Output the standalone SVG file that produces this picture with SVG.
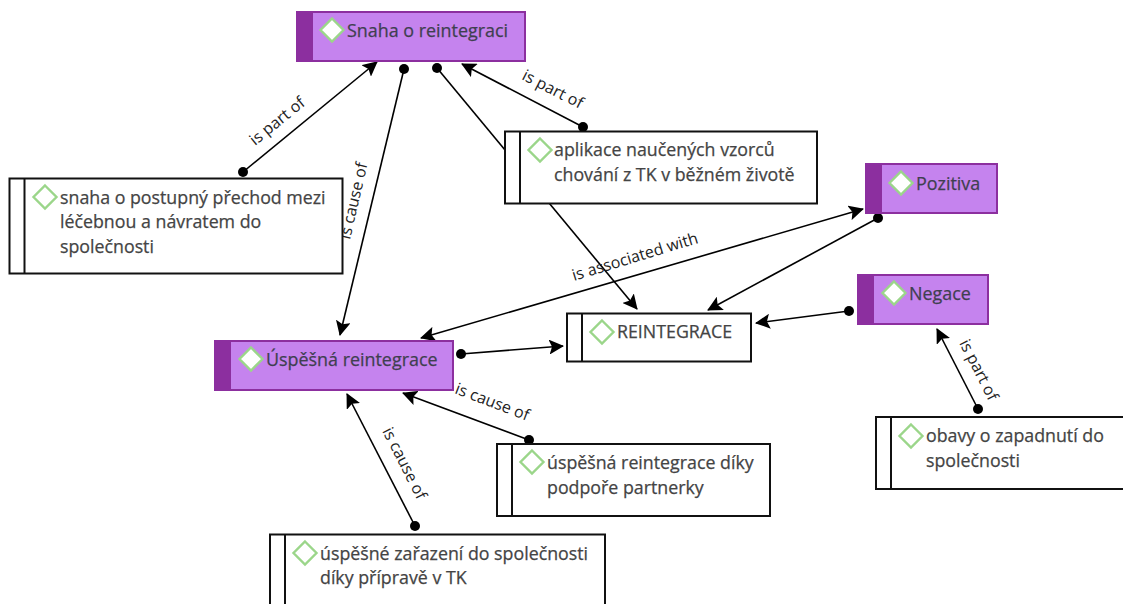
<svg xmlns="http://www.w3.org/2000/svg" width="1123" height="604" viewBox="0 0 1123 604">
<style>
text{font-family:"Open Sans","Noto Sans","Liberation Sans",sans-serif}
.t{font-size:17.800px;fill:#444;stroke:#444;stroke-width:.25}
.h{font-size:17.900px;fill:#3f3f50;stroke:#3f3f50;stroke-width:.25}
.l{font-size:16px;fill:#222}
.box{fill:#fff;stroke:#111;stroke-width:2}
.pur{fill:#c583ee;stroke:#8c2f9f;stroke-width:2}
.strip{fill:#8c2f9f}
.d{fill:#fff;stroke:#9bd68a;stroke-width:2.400}
.c{stroke:#000;stroke-width:1.600;fill:none}
</style>
<defs>
<marker id="a" viewBox="0 0 15 15" refX="14" refY="7.500" markerWidth="15" markerHeight="15" markerUnits="userSpaceOnUse" orient="auto"><path d="M0 0L15 7.500L0 15L3 7.500Z" fill="#000"/></marker>
<marker id="as" viewBox="0 0 15 15" refX="14" refY="7.500" markerWidth="15" markerHeight="15" markerUnits="userSpaceOnUse" orient="auto-start-reverse"><path d="M0 0L15 7.500L0 15L3 7.500Z" fill="#000"/></marker>
<marker id="o" viewBox="0 0 10 10" refX="5" refY="5" markerWidth="10" markerHeight="10" markerUnits="userSpaceOnUse"><circle cx="5" cy="5" r="5" fill="#000"/></marker>
<path id="dm" d="M0-11.500L11.500 0L0 11.500L-11.500 0Z"/>
</defs>
<g id="connectors">
<path class="c" marker-start="url(#o)" marker-end="url(#a)" d="M243 172L377 62"/>
<path class="c" marker-start="url(#o)" marker-end="url(#a)" d="M404 69L340 335"/>
<path class="c" marker-start="url(#o)" marker-end="url(#a)" d="M437 68L637 309"/>
<path class="c" marker-start="url(#o)" marker-end="url(#a)" d="M583 127L462 64"/>
<path class="c" marker-start="url(#as)" marker-end="url(#as)" d="M421 338L863 209"/>
<path class="c" marker-start="url(#o)" marker-end="url(#a)" d="M878 218L708 310"/>
<path class="c" marker-start="url(#o)" marker-end="url(#a)" d="M849 311L756 323"/>
<path class="c" marker-start="url(#o)" marker-end="url(#a)" d="M461 354L563 346"/>
<path class="c" marker-start="url(#o)" marker-end="url(#a)" d="M529 440L403 393"/>
<path class="c" marker-start="url(#o)" marker-end="url(#a)" d="M415 526L347 394"/>
<path class="c" marker-start="url(#o)" marker-end="url(#a)" d="M978 409L937 329"/>
<text class="l" transform="translate(255 146) rotate(-39)">is part of</text>
<text class="l" transform="translate(350 240) rotate(-77)">is cause of</text>
<text class="l" transform="translate(521 79) rotate(27)">is part of</text>
<text class="l" transform="translate(574 281) rotate(-17)">is associated with</text>
<text class="l" transform="translate(454 393) rotate(21)">is cause of</text>
<text class="l" transform="translate(382 431) rotate(63)">is cause of</text>
<text class="l" transform="translate(959 343) rotate(63)">is part of</text>
</g>
<g id="n1"><rect class="pur" x="297" y="12" width="228" height="49"/><rect class="strip" x="297" y="12" width="16" height="49"/><use href="#dm" class="d" x="332" y="30"/><text class="h" x="347" y="37">Snaha o reintegraci</text></g>
<g id="n2"><rect class="box" x="9.500" y="178.500" width="333" height="95"/><path class="box" d="M24.500 178.500V273.500"/><use href="#dm" class="d" x="45" y="197"/><text class="t" x="60" y="204">snaha o postupný přechod mezi</text><text class="t" x="60" y="228">léčebnou a návratem do</text><text class="t" x="60" y="253">společnosti</text></g>
<g id="n3"><rect class="box" x="505" y="131.500" width="312" height="72"/><path class="box" d="M520 131.500V203.500"/><use href="#dm" class="d" x="540" y="150"/><text class="t" x="554" y="156">aplikace naučených vzorců</text><text class="t" x="554" y="181">chování z TK v běžném životě</text></g>
<g id="n4"><rect class="pur" x="866" y="164" width="131" height="49"/><rect class="strip" x="866" y="164" width="16" height="49"/><use href="#dm" class="d" x="901" y="183"/><text class="h" x="916" y="190">Pozitiva</text></g>
<g id="n5"><rect class="pur" x="858" y="275" width="130" height="49"/><rect class="strip" x="858" y="275" width="16" height="49"/><use href="#dm" class="d" x="894" y="293"/><text class="h" x="909" y="300">Negace</text></g>
<g id="n6"><rect class="box" x="567" y="313.500" width="184" height="48"/><path class="box" d="M582 313.500V361.500"/><use href="#dm" class="d" x="602" y="332"/><text class="t" x="617" y="338">REINTEGRACE</text></g>
<g id="n7"><rect class="pur" x="215" y="341" width="238" height="49"/><rect class="strip" x="215" y="341" width="16" height="49"/><use href="#dm" class="d" x="251" y="359"/><text class="h" x="266" y="366">Úspěšná reintegrace</text></g>
<g id="n8"><rect class="box" x="497" y="444" width="273" height="72"/><path class="box" d="M512 444V516"/><use href="#dm" class="d" x="532" y="462"/><text class="t" x="547" y="469">úspěšná reintegrace díky</text><text class="t" x="547" y="494">podpoře partnerky</text></g>
<g id="n9"><rect class="box" x="876" y="417" width="260" height="72"/><path class="box" d="M891 417V489"/><use href="#dm" class="d" x="911" y="436"/><text class="t" x="926" y="442">obavy o zapadnutí do</text><text class="t" x="926" y="467">společnosti</text></g>
<g id="n10"><rect class="box" x="270" y="534.500" width="335" height="80"/><path class="box" d="M285 534.500V604"/><use href="#dm" class="d" x="305" y="553"/><text class="t" x="320" y="560">úspěšné zařazení do společnosti</text><text class="t" x="320" y="584">díky přípravě v TK</text></g>
</svg>
